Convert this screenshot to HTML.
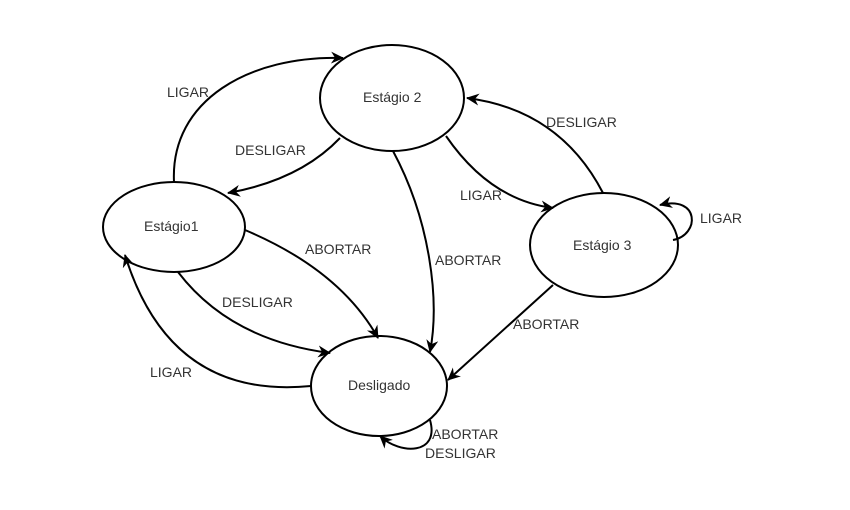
<!DOCTYPE html>
<html><head><meta charset="utf-8"><style>
html,body{margin:0;padding:0;background:#fff;}
svg{display:block;}
text{font-family:"Liberation Sans",Arial,sans-serif;font-size:14px;fill:#333;}
</style></head><body>
<svg width="850" height="510" viewBox="0 0 850 510">
<defs>
<marker id="a" markerWidth="14" markerHeight="12" refX="12" refY="6" orient="auto" markerUnits="userSpaceOnUse">
<path d="M0,0 L13,6 L0,12 L4,6 Z" fill="#000"/>
</marker>
</defs>
<g fill="none" stroke="#000" stroke-width="2">
<ellipse cx="392" cy="98" rx="72" ry="53"/>
<ellipse cx="174" cy="227" rx="71" ry="45"/>
<ellipse cx="604" cy="245" rx="74" ry="52"/>
<ellipse cx="379" cy="386" rx="68" ry="50"/>
<path d="M174,182 C170,100 250,55 343,58" marker-end="url(#a)"/>
<path d="M340,138 Q300,180 228,193" marker-end="url(#a)"/>
<path d="M393,151 C430,220 440,300 430,352" marker-end="url(#a)"/>
<path d="M245,230 Q340,270 378,338" marker-end="url(#a)"/>
<path d="M178,272 Q230,340 330,353" marker-end="url(#a)"/>
<path d="M311,386 Q170,400 125,255" marker-end="url(#a)"/>
<path d="M446,136 Q490,200 553,208" marker-end="url(#a)"/>
<path d="M603,193 Q560,110 467,98" marker-end="url(#a)"/>
<path d="M553,285 L448,380" marker-end="url(#a)"/>
<path d="M673,240 C700,235 700,195 660,205" marker-end="url(#a)"/>
<path d="M430,420 C440,455 400,455 380,436" marker-end="url(#a)"/>
</g>
<text x="363" y="102">Estágio 2</text>
<text x="144" y="231">Estágio1</text>
<text x="573" y="250">Estágio 3</text>
<text x="348" y="390">Desligado</text>
<text x="167" y="97">LIGAR</text>
<text x="235" y="155">DESLIGAR</text>
<text x="460" y="200">LIGAR</text>
<text x="546" y="127">DESLIGAR</text>
<text x="700" y="223">LIGAR</text>
<text x="305" y="254">ABORTAR</text>
<text x="435" y="265">ABORTAR</text>
<text x="222" y="307">DESLIGAR</text>
<text x="513" y="329">ABORTAR</text>
<text x="150" y="377">LIGAR</text>
<text x="432" y="439">ABORTAR</text>
<text x="425" y="458">DESLIGAR</text>
</svg>
</body></html>
